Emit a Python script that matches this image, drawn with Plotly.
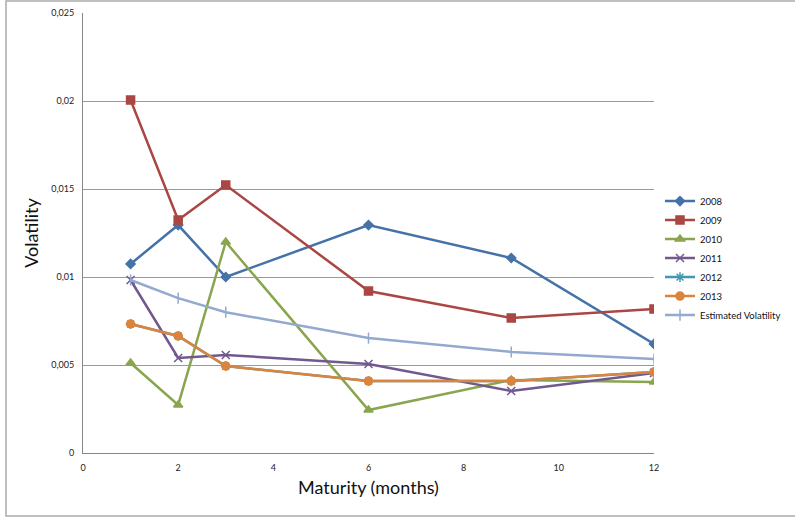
import plotly.graph_objects as go

maturity = [1, 2, 3, 6, 9, 12]
v2008 = [0.01074, 0.01295, 0.01000, 0.01295, 0.01108, 0.00620]
v2009 = [0.02006, 0.01324, 0.01523, 0.00920, 0.00767, 0.00818]
v2010 = [0.00511, 0.00273, 0.01199, 0.00244, 0.00415, 0.00403]
v2011 = [0.00983, 0.00540, 0.00557, 0.00506, 0.00352, 0.00455]
v2012 = [0.00733, 0.00665, 0.00494, 0.00409, 0.00409, 0.00460]
v2013 = [0.00733, 0.00665, 0.00494, 0.00409, 0.00409, 0.00460]
v_est = [0.00983, 0.00880, 0.00800, 0.00653, 0.00574, 0.00534]

y_tickvals = [0, 0.005, 0.01, 0.015, 0.02, 0.025]
y_ticktext = ["0", "0,005", "0,01", "0,015", "0,02", "0,025"]
x_tickvals = [0, 2, 4, 6, 8, 10, 12]
x_ticktext = ["0", "2", "4", "6", "8", "10", "12"]

series = [
    ("2008", v2008, "#4572A7", "diamond", 7),
    ("2009", v2009, "#AA4643", "square", 8),
    ("2010", v2010, "#89A54E", "triangle-up", 8),
    ("2011", v2011, "#71588F", "x-thin", 8),
    ("2012", v2012, "#4198AF", "asterisk", 8),
    ("2013", v2013, "#DB843D", "circle", 8),
    ("Estimated Volatility", v_est, "#93A9CF", "line-ns", 8),
]

fig = go.Figure()
for name, vals, color, sym, size in series:
    fig.add_trace(go.Scatter(
        x=maturity, y=vals, name=name, mode="lines+markers",
        line=dict(color=color, width=2.5),
        marker=dict(symbol=sym, size=size, color=color,
                    line=dict(color=color, width=1.5)),
    ))

fig.update_layout(
    width=795, height=517,
    margin=dict(l=83, r=141, t=13, b=64, autoexpand=False),
    paper_bgcolor="white", plot_bgcolor="white",
    font=dict(family="Lato, Liberation Sans, sans-serif", size=9, color="#222"),
    showlegend=True,
    legend=dict(x=1.0105, y=0.443, xanchor="left", yanchor="middle",
                font=dict(size=9.5, color="#111"), tracegroupgap=0,
                itemwidth=30, bgcolor="rgba(0,0,0,0)"),
    xaxis=dict(range=[0, 12], tickvals=x_tickvals, ticktext=x_ticktext,
               showgrid=False, showline=True, linecolor="#888", linewidth=1,
               zeroline=False, ticks="", ticklen=0, ticklabelstandoff=6,
               title=dict(text="Maturity (months)", font=dict(size=18, color="#111"),
                          standoff=9)),
    yaxis=dict(range=[0, 0.025], tickvals=y_tickvals, ticktext=y_ticktext,
               showgrid=True, gridcolor="#9a9a9a", gridwidth=1,
               showline=True, linecolor="#888", linewidth=1,
               zeroline=False, ticks="", ticklen=0, ticklabelstandoff=6,
               title=dict(text="Volatility", font=dict(size=18, color="#111"),
                          standoff=7)),
    shapes=[dict(type="rect", xref="paper", yref="paper",
                 x0=(6 - 83) / 571, x1=(800 - 83) / 571,
                 y0=(453 - 516) / 440, y1=(453 - 1) / 440,
                 line=dict(color="#aaaaaa", width=1.5), layer="below")],
)

fig.write_html("out.html",
               config={"displayModeBar": False},
               post_script="document.body.style.margin='0';")
